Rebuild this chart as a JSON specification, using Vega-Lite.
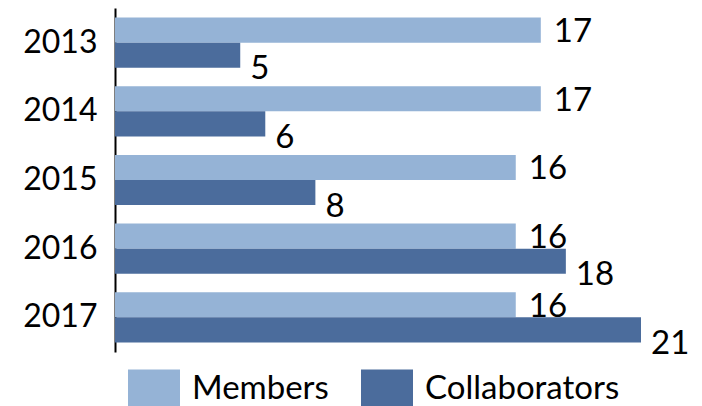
{
  "$schema": "https://vega.github.io/schema/vega-lite/v6.json",
  "autosize": {"type": "none"},
  "width": 526,
  "height": 344,
  "padding": {"left": 115, "top": 8, "right": 61, "bottom": 54},
  "config": {"view": {"stroke": null}, "font": "Lato"},
  "data": {"values": [
    {"year": "2013", "series": "Members", "value": 17},
    {"year": "2013", "series": "Collaborators", "value": 5},
    {"year": "2014", "series": "Members", "value": 17},
    {"year": "2014", "series": "Collaborators", "value": 6},
    {"year": "2015", "series": "Members", "value": 16},
    {"year": "2015", "series": "Collaborators", "value": 8},
    {"year": "2016", "series": "Members", "value": 16},
    {"year": "2016", "series": "Collaborators", "value": 18},
    {"year": "2017", "series": "Members", "value": 16},
    {"year": "2017", "series": "Collaborators", "value": 21}
  ]},
  "encoding": {
    "y": {"field": "year", "type": "nominal", "title": null,
      "scale": {"paddingInner": 0.27, "paddingOuter": 0.14},
      "axis": {"ticks": false, "labelFontSize": 32, "labelColor": "#000000", "labelPadding": 18, "domainColor": "#000000", "domainWidth": 2, "labelFont": "Lato"}},
    "yOffset": {"field": "series", "type": "nominal", "sort": ["Members", "Collaborators"], "scale": {"paddingInner": 0, "paddingOuter": 0}},
    "x": {"field": "value", "type": "quantitative", "scale": {"domain": [0, 21], "nice": false}, "axis": null}
  },
  "layer": [
    {
      "mark": {"type": "bar"},
      "encoding": {
        "color": {"field": "series", "type": "nominal", "sort": ["Members", "Collaborators"],
          "scale": {"domain": ["Members", "Collaborators"], "range": ["#95B3D6", "#4B6C9C"]},
          "legend": {"orient": "none", "legendX": 13, "legendY": 355, "direction": "horizontal", "title": null,
            "symbolType": "M-1,-0.77H1V0.77H-1Z", "symbolSize": 2704, "symbolStrokeWidth": 0, "symbolOpacity": 1,
            "labelFontSize": 33, "labelColor": "#000000", "labelFont": "Lato", "labelOffset": 12, "columnPadding": 32, "labelLimit": 300}}
      }
    },
    {
      "transform": [{"filter": "datum.series == 'Members'"}],
      "mark": {"type": "text", "align": "left", "baseline": "middle", "dx": 13, "dy": 2, "fontSize": 33, "color": "#000000", "clip": false},
      "encoding": {"text": {"field": "value", "type": "quantitative"}}
    },
    {
      "transform": [{"filter": "datum.series == 'Collaborators'"}],
      "mark": {"type": "text", "align": "left", "baseline": "middle", "dx": 10, "dy": 14, "fontSize": 33, "color": "#000000", "clip": false},
      "encoding": {"text": {"field": "value", "type": "quantitative"}}
    }
  ]
}
